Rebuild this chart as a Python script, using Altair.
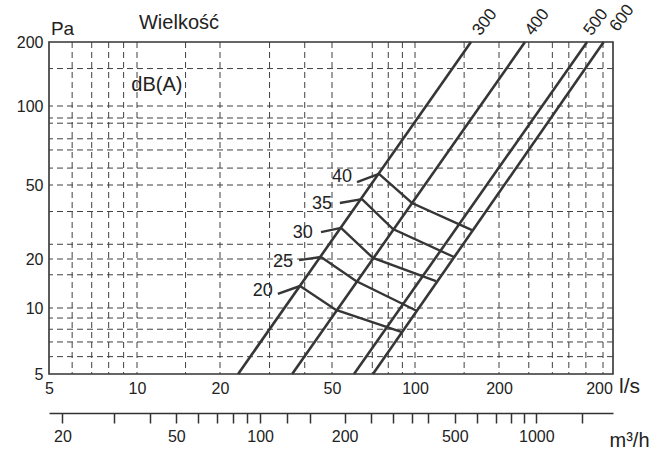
import altair as alt
import pandas as pd

FONT = "Liberation Sans"
INK = "#363636"
TXT = "#222222"

# ---- scale control points (value -> plot pixel) ----
X_CTRL = [5, 10, 20, 50, 100, 200, 500, 546]
X_PIX = [0, 88, 171, 283, 366, 450, 554, 564]
Y_CTRL = [5, 10, 20, 50, 100, 200]
Y_PIX = [332, 266, 217, 143, 64, 0]

# ---- grid ----
X_GRID = [6, 7, 8, 9, 10, 15, 20, 30, 40, 50, 70, 80, 90, 100, 150, 200, 260, 320, 370, 430, 500]
Y_GRID = [6, 7, 8, 9, 10, 16, 20, 24, 36, 50, 58, 68, 75, 86, 90, 100, 150]

# ---- axis labels ----
X_LABELS = [5, 10, 20, 50, 100, 200, 500]
Y_LABELS = [5, 10, 20, 50, 100, 200]
M3H_TICKS = [20, 30, 40, 50, 60, 70, 80, 90, 100, 125, 150, 200, 250, 300, 350, 400,
             500, 600, 700, 800, 900, 1000, 1500]
M3H_LABELS = [20, 50, 100, 200, 500, 1000]

# ---- size lines (Wielkość) ----
SIZES = [300, 400, 500, 600]
FLOW_AT_5PA = [23.2, 36.1, 60.1, 70.4]
FLOW_AT_200PA = [158.7, 251.5, 434.5, 503]
SIZE_LABEL_FLOW = [178, 280, 470, 591]
SIZE_LABEL_PA = [248, 248, 248, 259]

# ---- dB(A) curves ----
DB_LEVELS = [40, 35, 30, 25, 20]
DB_FLOW = [
    [74.0, 97.5, 160.1],
    [64.2, 83.2, 138.0],
    [53.9, 70.4, 118.9],
    [45.7, 61.1, 101.7],
    [38.5, 51.7, 89.7],
]
DB_PA = [
    [55.1, 40.0, 28.6],
    [42.0, 29.0, 20.5],
    [29.4, 20.25, 14.65],
    [20.5, 14.65, 9.69],
    [13.65, 9.8, 7.77],
]
LEADER_FLOW = [61.6, 53.4, 45.7, 38.2, 32.1]
LEADER_PA = [51.3, 40.0, 27.9, 19.7, 12.2]
DB_LABEL_FLOW = [54.4, 46.1, 39.4, 33.5, 28.4]
DB_LABEL_PA = [53.6, 39.5, 27.6, 19.2, 12.7]

# ---- other texts ----
NOTES = ["Wielkość", "dB(A)"]
NOTE_FLOW = [14.2, 11.8]
NOTE_PA = [245.6, 125.5]

# ================= build =================
xs = alt.Scale(type="log", domain=X_CTRL, range=X_PIX, nice=False)
ys = alt.Scale(type="log", domain=Y_CTRL, range=Y_PIX, nice=False)
ms = alt.Scale(type="log", domain=[v * 3.6 for v in X_CTRL], range=X_PIX, nice=False)

x_axis = alt.Axis(
    values=X_LABELS, format="d",
    labelExpr="datum.value == 500 ? '200' : datum.label",
    labelOffset={"condition": {"test": "datum.value == 500", "value": -4}, "value": 0},
    domain=False, ticks=False, tickSize=0, grid=False,
    labelPadding=6, labelFlush=False, labelOverlap=False,
    labelFont=FONT, labelFontSize=16, labelColor=TXT,
    title="l/s", titleX=580, titleY=12, titleAlign="center", titleBaseline="middle",
    titleFont=FONT, titleFontSize=21, titleFontWeight="normal", titleColor=TXT,
)
y_axis = alt.Axis(
    values=Y_LABELS, format="d",
    domain=False, ticks=False, tickSize=0, grid=False,
    labelPadding=6, labelFlush=False, labelOverlap=False,
    labelFont=FONT, labelFontSize=16, labelColor=TXT,
    title="Pa", titleAngle=0, titleX=13, titleY=-14, titleAlign="center", titleBaseline="middle",
    titleFont=FONT, titleFontSize=19, titleFontWeight="normal", titleColor=TXT,
)
m_axis = alt.Axis(
    orient="bottom", offset=39, values=M3H_TICKS, format="d",
    labelExpr="indexof(" + str(M3H_LABELS) + ", datum.value) >= 0 ? datum.label : ''",
    domain=True, domainColor="#333333", domainWidth=1.5,
    ticks=True, tickSize=10, tickColor="#333333", tickWidth=1.5, grid=False,
    labelPadding=5, labelFlush=False, labelOverlap=False,
    labelFont=FONT, labelFontSize=16, labelColor=TXT,
    title="m³/h", titleX=580, titleY=27, titleAlign="center", titleBaseline="middle",
    titleFont=FONT, titleFontSize=20, titleFontWeight="normal", titleColor=TXT,
)


def X(f):
    return alt.X(f + ":Q", scale=xs, axis=x_axis)


def Y(f):
    return alt.Y(f + ":Q", scale=ys, axis=y_axis)


grid_style = dict(color="#404040", strokeDash=[6, 4], strokeWidth=1)
vgrid = alt.Chart(pd.DataFrame({"gx": X_GRID})).mark_rule(**grid_style).encode(x=X("gx"))
hgrid = alt.Chart(pd.DataFrame({"gy": Y_GRID})).mark_rule(**grid_style).encode(y=Y("gy"))

rows = []
for s, f0, f1 in zip(SIZES, FLOW_AT_5PA, FLOW_AT_200PA):
    rows.append({"size": s, "flow": f0, "pa": 5, "i": 0})
    rows.append({"size": s, "flow": f1, "pa": 200, "i": 1})
diag = alt.Chart(pd.DataFrame(rows)).mark_line(color=INK, strokeWidth=2.6).encode(
    x=X("flow"), y=Y("pa"), detail="size:N", order="i:Q")

crow = []
for db, fl, pl in zip(DB_LEVELS, DB_FLOW, DB_PA):
    for i, (f, p) in enumerate(zip(fl, pl)):
        crow.append({"db": db, "flow": f, "pa": p, "i": i})
contours = alt.Chart(pd.DataFrame(crow)).mark_line(color=INK, strokeWidth=2.4).encode(
    x=X("flow"), y=Y("pa"), detail="db:N", order="i:Q")

lrow = []
for db, lf, lp, fl, pl in zip(DB_LEVELS, LEADER_FLOW, LEADER_PA, DB_FLOW, DB_PA):
    lrow.append({"db": db, "flow": lf, "pa": lp, "i": 0})
    lrow.append({"db": db, "flow": fl[0], "pa": pl[0], "i": 1})
leaders = alt.Chart(pd.DataFrame(lrow)).mark_line(color=INK, strokeWidth=2.4).encode(
    x=X("flow"), y=Y("pa"), detail="db:N", order="i:Q")

db_text = alt.Chart(pd.DataFrame({"t": [str(d) for d in DB_LEVELS], "flow": DB_LABEL_FLOW,
                                  "pa": DB_LABEL_PA})).mark_text(
    font=FONT, fontSize=18, color=TXT, align="center", baseline="middle").encode(
    x=X("flow"), y=Y("pa"), text="t:N")

size_text = alt.Chart(pd.DataFrame({"t": [str(s) for s in SIZES], "flow": SIZE_LABEL_FLOW,
                                    "pa": SIZE_LABEL_PA})).mark_text(
    font=FONT, fontSize=17, color=TXT, align="center", baseline="middle", angle=307).encode(
    x=X("flow"), y=Y("pa"), text="t:N")

notes = alt.Chart(pd.DataFrame({"t": NOTES, "flow": NOTE_FLOW, "pa": NOTE_PA})).mark_text(
    font=FONT, fontSize=20, color=TXT, align="center", baseline="middle").encode(
    x=X("flow"), y=Y("pa"), text="t:N")

main = alt.layer(vgrid, hgrid, diag, contours, leaders, db_text, size_text, notes)

m3h = alt.Chart(pd.DataFrame({"m3h": M3H_TICKS})).mark_point(opacity=0).encode(
    x=alt.X("m3h:Q", scale=ms, axis=m_axis), y=alt.value(0))

chart = alt.layer(main, m3h).resolve_scale(x="independent").properties(
    width=564, height=332,
    autosize=alt.AutoSizeParams(type="none"),
    padding={"left": 49, "top": 42, "right": 38, "bottom": 77},
    background="white",
).configure_view(stroke="#333333", strokeWidth=1.6)

chart.save("out.html", embed_options={"renderer": "svg", "actions": False})
